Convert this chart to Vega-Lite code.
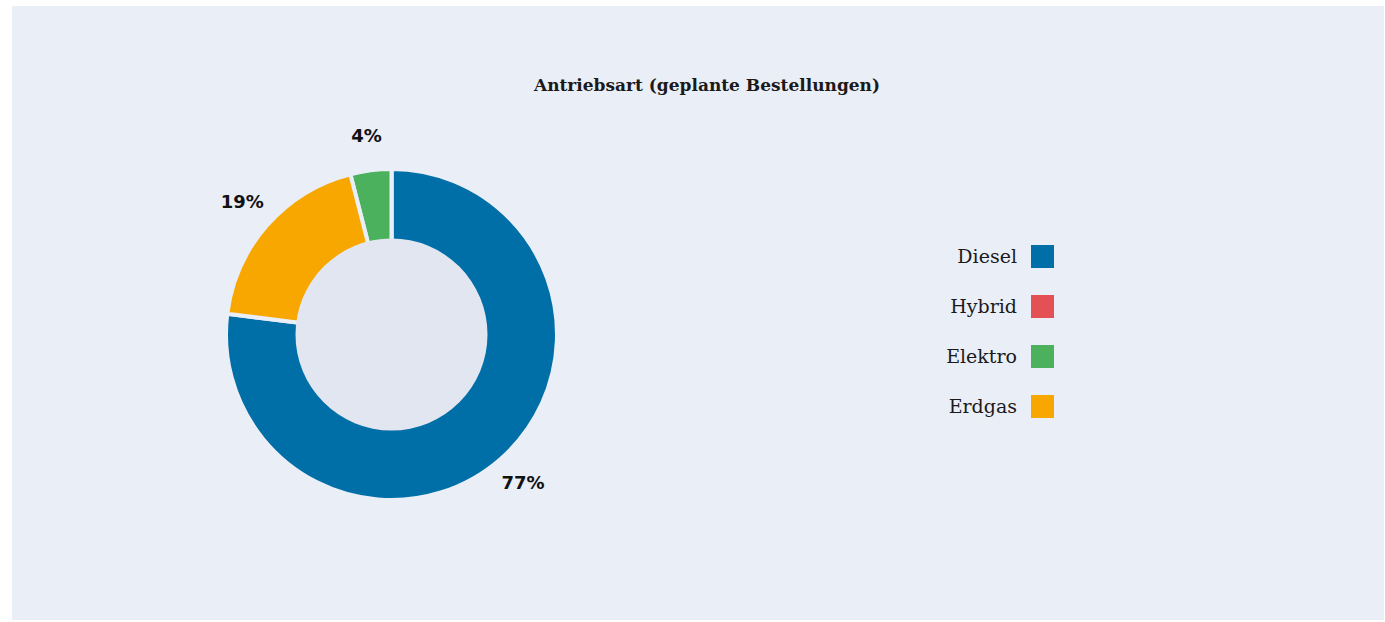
{
  "$schema": "https://vega.github.io/schema/vega-lite/v6.json",
  "autosize": {"type": "fit", "contains": "padding"},
  "width": 1385,
  "height": 622,
  "padding": {"left": 12, "top": 6, "right": 1, "bottom": 2},
  "background": "#ffffff",
  "view": {"fill": "#eaeef7", "stroke": null},
  "title": {
    "text": "Antriebsart (geplante Bestellungen)",
    "font": "DejaVu Serif",
    "fontSize": 17,
    "fontWeight": "bold",
    "color": "#1a1a1a",
    "anchor": "middle",
    "baseline": "top",
    "offset": -89,
    "dx": 9
  },
  "data": {
    "values": [
      {"Antriebsart": "Diesel", "Anteil": 0.77},
      {"Antriebsart": "Hybrid", "Anteil": 0},
      {"Antriebsart": "Elektro", "Anteil": 0.04},
      {"Antriebsart": "Erdgas", "Anteil": 0.19}
    ]
  },
  "layer": [
    {
      "mark": {
        "type": "arc",
        "radius": 165.5,
        "radius2": 93,
        "stroke": "#eaeef7",
        "strokeWidth": 4,
        "x": {"expr": "width * 0.2766"},
        "y": {"expr": "height * 0.535"}
      },
      "encoding": {
        "theta": {"field": "Anteil", "type": "quantitative", "stack": true},
        "order": {"field": "Anteil", "sort": "descending"},
        "color": {
          "field": "Antriebsart",
          "type": "nominal",
          "scale": {
            "domain": ["Diesel", "Hybrid", "Elektro", "Erdgas"],
            "range": ["#006fa7", "#e35154", "#4cb15d", "#f7a700"]
          },
          "legend": {
            "title": null,
            "orient": "none",
            "legendX": 1019,
            "legendY": 239,
            "padding": 0,
            "symbolType": "square",
            "symbolSize": 529,
            "symbolStrokeWidth": 0,
            "symbolOpacity": 1,
            "labelAlign": "right",
            "labelOffset": -37,
            "labelFont": "DejaVu Serif",
            "labelFontSize": 19,
            "labelColor": "#1a1a1a",
            "labelLimit": 0,
            "rowPadding": 27
          }
        }
      }
    },
    {
      "transform": [{"filter": "datum.Antriebsart === 'Diesel'"}],
      "mark": {
        "type": "arc",
        "radius": 96,
        "theta": 6.2832,
        "fill": "#e2e6f0",
        "x": {"expr": "width * 0.2766"},
        "y": {"expr": "height * 0.535"}
      },
      "encoding": {}
    },
    {
      "transform": [{"filter": "datum.Anteil > 0"}],
      "mark": {
        "type": "text",
        "radius": 199,
        "font": "DejaVu Sans",
        "fontWeight": "bold",
        "fontSize": 18,
        "color": "#111111",
        "x": {"expr": "width * 0.2766"},
        "y": {"expr": "height * 0.535"}
      },
      "encoding": {
        "theta": {"field": "Anteil", "type": "quantitative", "stack": true},
        "order": {"field": "Anteil", "sort": "descending"},
        "text": {"field": "Anteil", "type": "quantitative", "format": ".0%"}
      }
    }
  ]
}
